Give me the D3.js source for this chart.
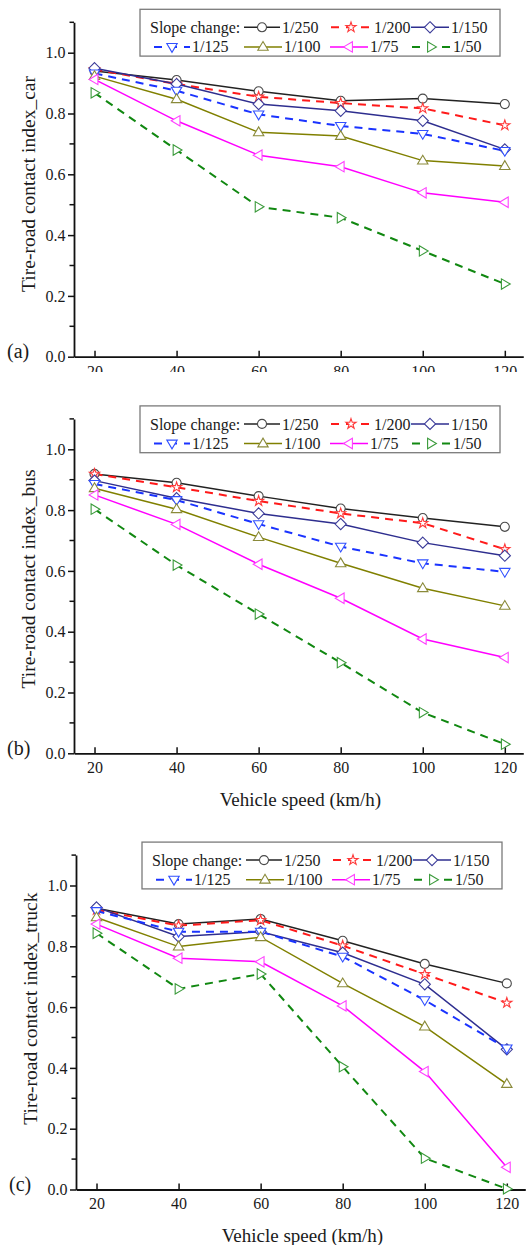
<!DOCTYPE html>
<html>
<head>
<meta charset="utf-8">
<script src="https://cdn.jsdelivr.net/npm/d3@7"></script>
<style>
  html, body { margin: 0; padding: 0; background: #fff; }
  svg { display: block; }
  text { font-family: "Liberation Serif", "Times New Roman", serif; fill: #1a1a1a; }
</style>
</head>
<body>
<svg id="chart" width="530" height="1245"></svg>
<script>
// ---------------- DATA ----------------
const speeds = [20, 40, 60, 80, 100, 120];
const xTicks = [20, 40, 60, 80, 100, 120];
const yTicksMajor = [0, 0.2, 0.4, 0.6, 0.8, 1.0];
const yTicksMinor = [0.1, 0.3, 0.5, 0.7, 0.9, 1.1];
const slopeChanges = ["1/250", "1/200", "1/150", "1/125", "1/100", "1/75", "1/50"];

// Tire-road contact index, one row per slope change (same order as slopeChanges)
const carIndex = [
  [0.940, 0.910, 0.873, 0.842, 0.849, 0.831],
  [0.945, 0.897, 0.855, 0.834, 0.817, 0.761],
  [0.949, 0.897, 0.831, 0.809, 0.776, 0.682],
  [0.932, 0.875, 0.797, 0.759, 0.733, 0.677],
  [0.923, 0.847, 0.738, 0.726, 0.645, 0.627],
  [0.912, 0.776, 0.663, 0.625, 0.539, 0.508],
  [0.868, 0.680, 0.493, 0.457, 0.348, 0.239]
];
const busIndex = [
  [0.919, 0.890, 0.846, 0.805, 0.774, 0.745],
  [0.919, 0.875, 0.830, 0.789, 0.757, 0.671],
  [0.897, 0.839, 0.789, 0.754, 0.693, 0.650],
  [0.886, 0.833, 0.754, 0.680, 0.625, 0.597],
  [0.872, 0.803, 0.711, 0.625, 0.543, 0.485],
  [0.850, 0.753, 0.622, 0.510, 0.376, 0.315],
  [0.803, 0.619, 0.458, 0.298, 0.134, 0.030]
];
const truckIndex = [
  [0.925, 0.873, 0.890, 0.818, 0.742, 0.678],
  [0.920, 0.868, 0.886, 0.802, 0.708, 0.614],
  [0.928, 0.832, 0.848, 0.779, 0.675, 0.461],
  [0.916, 0.848, 0.848, 0.766, 0.623, 0.464],
  [0.895, 0.799, 0.830, 0.678, 0.536, 0.347],
  [0.873, 0.761, 0.749, 0.604, 0.388, 0.073],
  [0.843, 0.660, 0.709, 0.404, 0.103, 0.002]
];

// ---------------- STYLES ----------------
const lineColors   = ["#222222", "#ff1a1a", "#2e2e8f", "#1a33ff", "#808000", "#ff00ff", "#118811"];
const markerColors = ["#4a4a4a", "#ff3a3a", "#3c3c99", "#3050ff", "#8a8a3a", "#ff40ff", "#3a9a3a"];
const dashed = [false, true, false, true, false, false, true];
const markerTypes = ["circle", "star", "diamond", "triDown", "triUp", "triLeft", "triRight"];

function markerPath(type) {
  switch (type) {
    case "circle":  return d3.symbol(d3.symbolCircle, 64)();
    case "star":    return d3.symbol(d3.symbolStar, 32)();
    case "diamond": return "M0,-5.6L5.6,0L0,5.6L-5.6,0Z";
    case "triDown": return "M-5.2,-3.4L5.2,-3.4L0,5.4Z";
    case "triUp":   return "M-5.2,3.4L5.2,3.4L0,-5.4Z";
    case "triLeft": return "M3.4,-5.2L3.4,5.2L-5.4,0Z";
    case "triRight":return "M-3.4,-5.2L-3.4,5.2L5.4,0Z";
  }
}

const svg = d3.select("#chart");

const panels = [
  { data: carIndex,   y0: 356.7,  dx: 0, letter: "(a)", title: "Tire-road contact index_car",   xTitle: false, clipY: 372 },
  { data: busIndex,   y0: 753.3,  dx: 0, letter: "(b)", title: "Tire-road contact index_bus",   xTitle: true,  clipY: null },
  { data: truckIndex, y0: 1189.5, dx: 2, letter: "(c)", title: "Tire-road contact index_truck", xTitle: true,  clipY: null }
];

const defs = svg.append("defs");

panels.forEach((p, pi) => {
  const g = svg.append("g");
  const x0 = 74 + p.dx;
  const x = d3.scaleLinear().domain([15, 124.5]).range([x0, x0 + 109.5 * 4.103]);
  const y = d3.scaleLinear().domain([0, 1.1]).range([p.y0, p.y0 - 334.4]);

  // ---- x axis ----
  const xg = g.append("g").attr("transform", `translate(0,${p.y0})`);
  if (p.clipY) {
    defs.append("clipPath").attr("id", "clip" + pi)
      .append("rect").attr("x", 0).attr("y", -20).attr("width", 530).attr("height", p.clipY - p.y0 + 20);
    xg.attr("clip-path", `url(#clip${pi})`);
  }
  xg.call(d3.axisBottom(x).tickValues(xTicks).tickSizeInner(-6).tickSizeOuter(0).tickPadding(8.5).tickFormat(d3.format("d")));
  xg.attr("font-family", null).attr("font-size", null);
  xg.selectAll("text").style("font-size", "16px").attr("fill", "#1a1a1a");
  xg.select(".domain").attr("stroke", "#111").attr("stroke-width", 1.8);
  xg.selectAll(".tick line").attr("stroke", "#111").attr("stroke-width", 1.5);

  // ---- y axis ----
  const yg = g.append("g").attr("transform", `translate(${x0},0)`);
  yg.call(d3.axisLeft(y).tickValues(yTicksMajor).tickSizeInner(6).tickSizeOuter(0).tickPadding(2.5).tickFormat(d3.format(".1f")));
  yg.attr("font-family", null).attr("font-size", null);
  yg.selectAll("text").style("font-size", "16px").attr("fill", "#1a1a1a");
  yg.select(".domain").attr("stroke", "#111").attr("stroke-width", 1.8);
  yg.selectAll(".tick line").attr("stroke", "#111").attr("stroke-width", 1.5);
  yg.selectAll(".minor").data(yTicksMinor).enter().append("line")
    .attr("class", "minor")
    .attr("x1", -4.5).attr("x2", 0)
    .attr("y1", d => y(d)).attr("y2", d => y(d))
    .attr("stroke", "#111").attr("stroke-width", 1.5);

  // ---- y title ----
  g.append("text")
    .attr("transform", `translate(${35 + p.dx},${y(0.2) - 4}) rotate(-90)`)
    .attr("text-anchor", "start")
    .style("font-size", "19.5px")
    .text(p.title);

  // ---- panel letter ----
  g.append("text")
    .attr("x", 7 + p.dx).attr("y", p.y0 + 1.5)
    .style("font-size", "20px")
    .text(p.letter);

  // ---- x title ----
  if (p.xTitle) {
    g.append("text")
      .attr("x", x(70.2)).attr("y", p.y0 + 52.5)
      .attr("text-anchor", "middle")
      .style("font-size", "19px")
      .text("Vehicle speed (km/h)");
  }

  // ---- series ----
  const line = d3.line().x((d, i) => x(speeds[i])).y(d => y(d));
  p.data.forEach((vals, si) => {
    g.append("path")
      .attr("d", line(vals))
      .attr("fill", "none")
      .attr("stroke", lineColors[si])
      .attr("stroke-width", dashed[si] ? 2 : 1.5)
      .attr("stroke-dasharray", dashed[si] ? "8,6" : null);
  });
  p.data.forEach((vals, si) => {
    g.selectAll(null).data(vals).enter().append("path")
      .attr("transform", (d, i) => `translate(${x(speeds[i])},${y(d)})`)
      .attr("d", markerPath(markerTypes[si]))
      .attr("fill", "#fff")
      .attr("stroke", markerColors[si])
      .attr("stroke-width", 1.1);
  });

  // ---- legend ----
  const top = y(1.1);
  const lg = g.append("g").attr("transform", `translate(${p.dx},${top})`);
  lg.append("rect").attr("x", 140).attr("y", -13).attr("width", 360).attr("height", 46.8)
    .attr("fill", "#fff").attr("stroke", "#7a7a7a").attr("stroke-width", 1.3);
  const row1 = 5, row2 = 24.6;
  lg.append("text").attr("x", 150).attr("y", row1).attr("dy", "0.35em").style("font-size", "16px").text("Slope change:");
  const legendPos = [
    { x1: 244, x2: 280, tx: 282, ry: row1 },
    { x1: 331, x2: 371, tx: 374, ry: row1 },
    { x1: 411, x2: 449, tx: 451, ry: row1 },
    { x1: 154, x2: 190, tx: 192, ry: row2 },
    { x1: 244, x2: 282, tx: 284, ry: row2 },
    { x1: 330, x2: 368, tx: 370, ry: row2 },
    { x1: 412, x2: 450, tx: 453, ry: row2 }
  ];
  slopeChanges.forEach((name, si) => {
    const lp = legendPos[si];
    const dashArr = dashed[si] ? "8,7" : null;
    lg.append("line").attr("x1", lp.x1).attr("x2", lp.x2).attr("y1", lp.ry).attr("y2", lp.ry)
      .attr("stroke", lineColors[si]).attr("stroke-width", dashed[si] ? 2 : 1.5)
      .attr("stroke-dasharray", dashArr);
    lg.append("path").attr("transform", `translate(${(lp.x1 + lp.x2) / 2},${lp.ry})`)
      .attr("d", markerPath(markerTypes[si]))
      .attr("fill", "#fff").attr("stroke", markerColors[si]).attr("stroke-width", 1.1);
    lg.append("text").attr("x", lp.tx).attr("y", lp.ry).attr("dy", "0.35em")
      .style("font-size", "16px").text(name);
  });
});
</script>
</body>
</html>
